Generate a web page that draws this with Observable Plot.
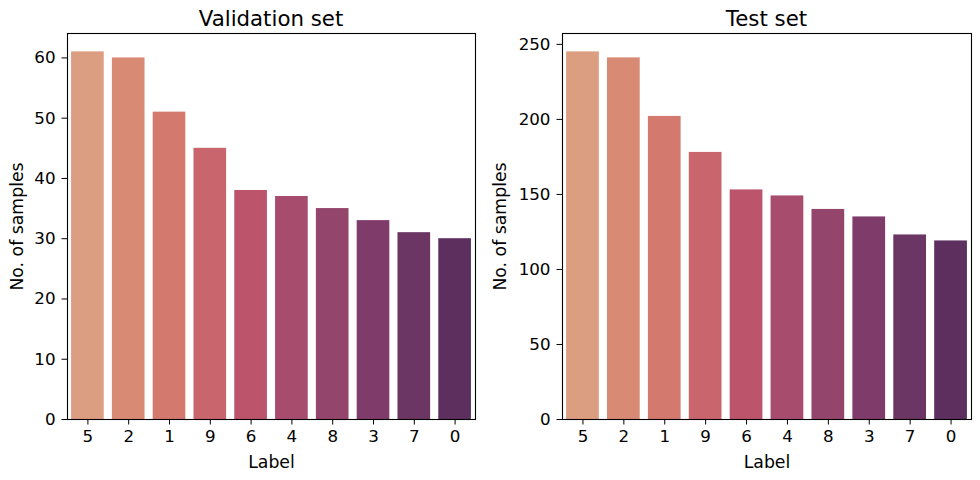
<!DOCTYPE html>
<html>
<head>
<meta charset="utf-8">
<script src="https://cdn.jsdelivr.net/npm/d3@7"></script>
<script src="https://cdn.jsdelivr.net/npm/@observablehq/plot@0.6"></script>
<style>
  html, body { margin: 0; padding: 0; background: #fff; }
  body { width: 980px; height: 480px; overflow: hidden; font-family: "DejaVu Sans", sans-serif; }
  #wrap { display: flex; }
  .panel { width: 490px; }
  .title { box-sizing: border-box; height: 32px; padding-top: 8px; font-size: 21.3px; line-height: 21px; text-align: center; color: #000; white-space: nowrap; }
  svg [aria-label$="tick label"] text { font-size: 16.7px; }
  svg [aria-label$="axis label"] text { font-size: 17.3px; }
</style>
</head>
<body>
<div id="wrap"></div>
<script>
const labels = ["5", "2", "1", "9", "6", "4", "8", "3", "7", "0"];
const validationCounts = [61, 60, 51, 45, 38, 37, 35, 33, 31, 30];
const testCounts = [245, 241, 202, 178, 153, 149, 140, 135, 123, 119];
const barColors = ["#dc9e80", "#d88a74", "#d3796e", "#c9666d", "#bc546b", "#a74c6d", "#93456b", "#7f3c6a", "#6b3564", "#5c2f5e"];
const validationTicks = [0, 10, 20, 30, 40, 50, 60];
const testTicks = [0, 50, 100, 150, 200, 250];

function panel(title, counts, ticks, mLeft, mRight, yLabelOffset) {
  const data = labels.map((l, i) => ({label: l, count: counts[i]}));
  const div = document.createElement("div");
  div.className = "panel";
  const t = document.createElement("div");
  t.className = "title";
  t.style.paddingLeft = mLeft + "px";
  t.style.paddingRight = mRight + "px";
  t.textContent = title;
  div.appendChild(t);
  const chart = Plot.plot({
    width: 490,
    height: 448,
    marginTop: 1,
    marginBottom: 61,
    marginLeft: mLeft,
    marginRight: mRight,
    style: {fontFamily: "DejaVu Sans", fontSize: "16px", color: "#000", background: "#fff"},
    x: {domain: labels, paddingInner: 0.2, paddingOuter: 0.1, align: 0.5, round: false},
    y: {domain: [0, d3.max(counts) * 1.05]},
    color: {domain: labels, range: barColors},
    marks: [
      Plot.barY(data, {x: "label", y: "count", fill: "label"}),
      Plot.axisX({tickSize: 5.5, tickPadding: 5, label: "Label", labelAnchor: "center", labelArrow: "none", labelOffset: 48, stroke: "#000"}),
      Plot.axisY({ticks: ticks, tickSize: 5.5, tickPadding: 6.5, label: "No. of samples", labelAnchor: "center", labelArrow: "none", labelOffset: yLabelOffset, stroke: "#000"}),
      Plot.frame({stroke: "#000", strokeWidth: 1.1})
    ]
  });
  div.appendChild(chart);
  return div;
}

const wrap = document.getElementById("wrap");
wrap.appendChild(panel("Validation set", validationCounts, validationTicks, 67, 15, 57));
wrap.appendChild(panel("Test set", testCounts, testTicks, 72, 9, 69));
</script>
</body>
</html>
